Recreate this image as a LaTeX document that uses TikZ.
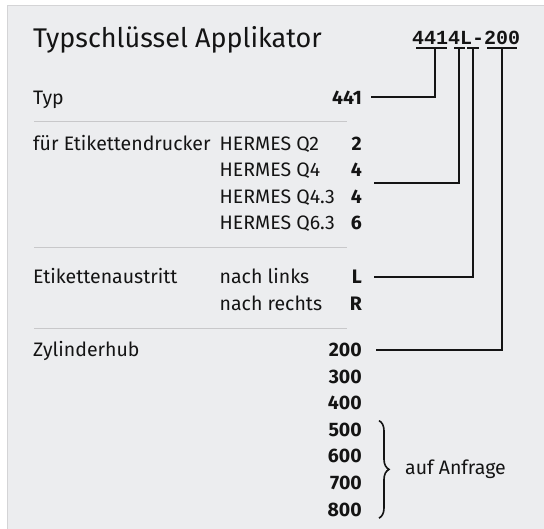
\documentclass[tikz,border=0pt]{standalone}
\usepackage{fontspec}
\setmainfont{Fira Sans}
\newfontfamily\codefont{Liberation Mono}
\usetikzlibrary{positioning, calc, decorations.pathreplacing}

\definecolor{fond}{RGB}{236,237,239}
\definecolor{cadre}{RGB}{212,212,214}
\definecolor{trait}{RGB}{200,200,202}
\definecolor{encre}{RGB}{20,20,20}

\begin{document}
\begin{tikzpicture}[x=1pt, y=-1pt, font=\fontsize{19.5}{22}\selectfont, text=encre]
        % Définition des styles
        \tikzstyle{txt} = [anchor=base west, inner sep=0pt]
        \tikzstyle{val} = [anchor=base east, inner sep=0pt, font=\fontsize{19.5}{22}\selectfont\bfseries]
        \tikzstyle{separ} = [draw=trait, line width=1pt]
        \tikzstyle{ligne} = [draw=encre, line width=1.6pt]

        % Cadre et fond
        \useasboundingbox (0,0) rectangle (544,528);
        \clip (0,0) rectangle (544,528);
        \draw [fill=fond, draw=cadre, line width=1.5pt] (7.5,5.5) rectangle (560,545);

        % Titre et code
        \node [txt, font=\fontsize{27}{30}\selectfont] (titre) at (33,47) {Typschlüssel Applikator};
        \node [txt, font=\codefont\fontsize{20}{22}\selectfont\bfseries] (code) at (412,44) {4414L-200};

        % Soulignements du code
        \coordinate (u441) at (435,48);
        \coordinate (u4) at (459,48);
        \coordinate (uL) at (473,48);
        \coordinate (u200) at (502,48);
        \draw [ligne] (416,48) -- (447,48);
        \draw [ligne] (454,48) -- (465,48);
        \draw [ligne] (467,48) -- (479,48);
        \draw [ligne] (487,48) -- (517,48);

        % Type
        \node [txt] (typ) at (33,104) {Typ};
        \node [val] (v441) at (362,104) {441};
        \draw [separ] (34,121.5) -- (347,121.5);

        % Imprimantes
        \node [txt] (drucker) at (33,150) {für Etikettendrucker};
        \node [txt] (q2) at (219.5,150) {HERMES Q2};
        \node [val] (v2) at (362,150) {2};
        \node [txt] (q4) at (219.5,176.6) {HERMES Q4};
        \node [val] (v4) at (362,176.6) {4};
        \node [txt] (q43) at (219.5,203.2) {HERMES Q4.3};
        \node [val] (v43) at (362,203.2) {4};
        \node [txt] (q63) at (219.5,229.8) {HERMES Q6.3};
        \node [val] (v63) at (362,229.8) {6};
        \draw [separ] (34,247.5) -- (347,247.5);

        % Sortie des étiquettes
        \node [txt] (austritt) at (33,283.5) {Etikettenaustritt};
        \node [txt] (links) at (219.5,283.5) {nach links};
        \node [val] (vL) at (362,283.5) {L};
        \node [txt] (rechts) at (219.5,310.2) {nach rechts};
        \node [val] (vR) at (362,310.2) {R};
        \draw [separ] (34,328) -- (347,328);

        % Course du vérin
        \node [txt] (hub) at (33,356.5) {Zylinderhub};
        \node [val] (v200) at (362,356.5) {200};
        \node [val] (v300) at (362,383.1) {300};
        \node [val] (v400) at (362,409.7) {400};
        \node [val] (v500) at (362,436.3) {500};
        \node [val] (v600) at (362,462.9) {600};
        \node [val] (v700) at (362,489.5) {700};
        \node [val] (v800) at (362,516.1) {800};

        % Accolade
        \draw [ligne, decorate, decoration={brace, amplitude=10pt}]
            ([xshift=17pt, yshift=2pt]v500.north east) -- ([xshift=17pt, yshift=-1.5pt]v800.south east);
        \node [anchor=west, inner sep=0pt] (anfrage) at (405,469) {auf Anfrage};

        % Connexions vers le code
        \draw [ligne] ([xshift=9pt]v441.east) -| (u441);
        \draw [ligne] ($(v4.east)!0.5!(v43.east)+(12,0)$) -| (u4);
        \draw [ligne] ([xshift=12pt]vL.east) -| (uL);
        \draw [ligne] ([xshift=14pt]v200.east) -| (u200);

    \end{tikzpicture}
\end{document}
